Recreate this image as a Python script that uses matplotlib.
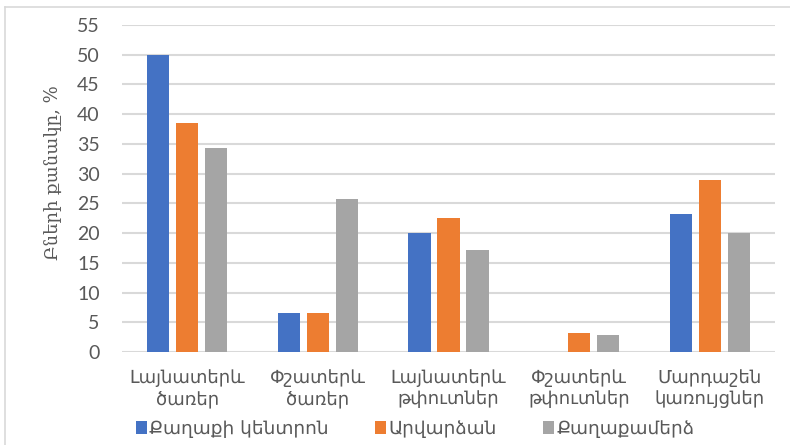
import matplotlib.pyplot as plt
import numpy as np
from matplotlib.lines import Line2D

# data
categories = ['Լայնատերև\nծառեր', 'Փշատերև\nծառեր', 'Լայնատերև\nթփուտներ',
              'Փշատերև\nթփուտներ', 'Մարդաշեն\nկառույցներ']
series_names = ['Քաղաքի կենտրոն', 'Արվարձան', 'Քաղաքամերձ']
city_center = [50.0, 6.6, 20.0, 0.0, 23.2]
suburb = [38.6, 6.5, 22.5, 3.2, 29.0]
outskirts = [34.3, 25.8, 17.1, 2.8, 20.0]
yticks = list(range(0, 60, 5))

colors = ['#4472C4', '#ED7D31', '#A5A5A5']
text_color = '#595959'

fig = plt.figure(figsize=(7.9, 4.45), dpi=100)
ax = fig.add_axes([122 / 790, 1 - 352 / 445, 653 / 790, 327 / 445])

x = np.arange(len(categories))
width = 0.17
step = 0.222
for i, (vals, name) in enumerate(zip([city_center, suburb, outskirts], series_names)):
    ax.bar(x + (i - 1) * step, vals, width, color=colors[i], label=name, zorder=3)

ax.set_xlim(-0.5, len(categories) - 0.5)
ax.set_ylim(0, 55)
ax.set_yticks(yticks)
ax.grid(axis='y', color='#D9D9D9', linewidth=1.5, zorder=0)
for s in ax.spines.values():
    s.set_visible(False)

ax.tick_params(axis='both', length=0, colors=text_color)
ax.tick_params(axis='y', pad=16, labelsize=14)
ax.tick_params(axis='x', pad=12)
for lbl in ax.get_yticklabels():
    lbl.set_fontfamily('Lato')
ax.set_xticks(x)
ax.set_xticklabels(categories, fontsize=13, fontfamily='DejaVu Sans',
                   linespacing=1.25)

ax.set_ylabel('Բների քանակը, %', fontsize=13, fontfamily='DejaVu Serif',
              color=text_color)
ax.yaxis.set_label_coords(-0.092, 0.55)

leg = fig.legend(loc='center left', bbox_to_anchor=(123 / 790, 1 - 429 / 445), ncol=3,
                 frameon=False, handlelength=0.58, handleheight=0.63, handletextpad=0.15,
                 columnspacing=2.5, borderpad=0.2,
                 prop={'family': 'DejaVu Sans', 'size': 13.3})
for t in leg.get_texts():
    t.set_color(text_color)

# outer chart frame
fig.add_artist(Line2D([5 / 790, 5 / 790], [0, 1 - 7 / 445], color='#D9D9D9', lw=1.2))
fig.add_artist(Line2D([5 / 790, 1], [1 - 7 / 445, 1 - 7 / 445], color='#D9D9D9', lw=1.2))

fig.savefig('out.png', dpi=100)
